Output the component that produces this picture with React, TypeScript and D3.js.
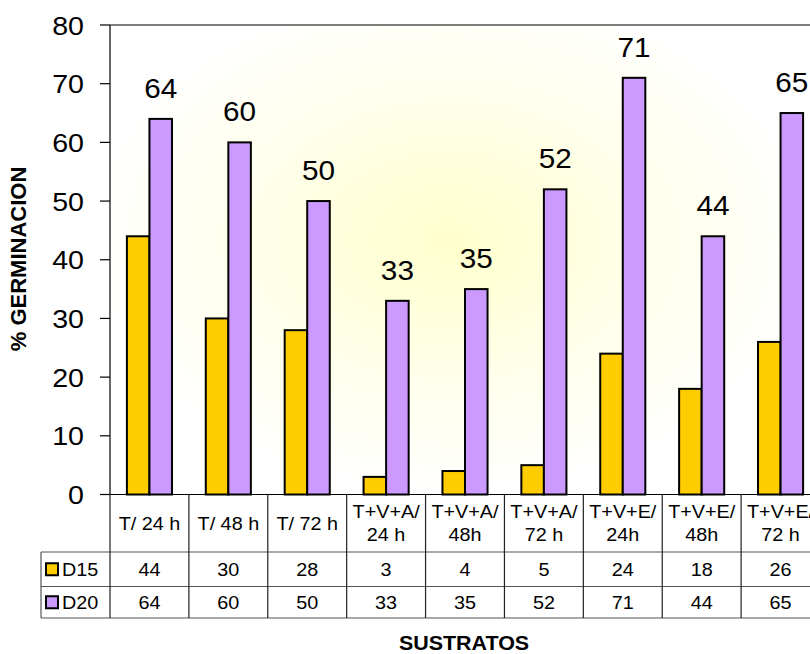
import React from "react";
import * as d3 from "d3";

const categories: string[][] = [
  ["T/ 24 h"],
  ["T/ 48 h"],
  ["T/ 72 h"],
  ["T+V+A/", "24 h"],
  ["T+V+A/", "48h"],
  ["T+V+A/", "72 h"],
  ["T+V+E/", "24h"],
  ["T+V+E/", "48h"],
  ["T+V+E/", "72 h"],
];
const seriesNames = ["D15", "D20"];
const d15 = [44, 30, 28, 3, 4, 5, 24, 18, 26];
const d20 = [64, 60, 50, 33, 35, 52, 71, 44, 65];
const yTicks = [0, 10, 20, 30, 40, 50, 60, 70, 80];
const seriesColors = ["#FFCC00", "#CC99FF"];

const W = 810;
const H = 654;
const FONT = "'Liberation Sans', Arial, sans-serif";
const SX = 1.1; // text is drawn slightly wide

type STProps = {
  x: number;
  y: number;
  size: number;
  anchor?: "start" | "middle" | "end";
  bold?: boolean;
  children: React.ReactNode;
};

function WideText({ x, y, size, anchor = "middle", bold, children }: STProps) {
  return (
    <text
      transform={`translate(${x},${y}) scale(${SX},1)`}
      textAnchor={anchor}
      fontSize={size}
      fontWeight={bold ? "bold" : "normal"}
      fill="#000"
    >
      {children}
    </text>
  );
}

export default function App() {
  const left = 110;
  const right = 820;
  const top = 25;
  const bottom = 494.5;

  const keys = categories.map((_, i) => String(i));
  const x = d3.scaleBand<string>().domain(keys).range([left, right]).padding(0);
  const xs = d3
    .scaleBand<string>()
    .domain(seriesNames)
    .range([0, x.bandwidth()])
    .paddingInner(0)
    .paddingOuter(0.75);
  const y = d3.scaleLinear().domain([0, 80]).range([bottom, top]);

  const values = [d15, d20];

  const rowHeader = [bottom, 552];
  const rowD15 = [552, 586.5];
  const rowD20 = [586.5, 618];
  const legendLeft = 41;

  return (
    <svg
      width={W}
      height={H}
      viewBox={`0 0 ${W} ${H}`}
      style={{ position: "absolute", left: 0, top: 0, background: "#fff" }}
      fontFamily={FONT}
    >
      <defs>
        <radialGradient
          id="plotBg"
          gradientUnits="userSpaceOnUse"
          cx={450}
          cy={240}
          r={360}
          gradientTransform="translate(450 240) scale(1 0.7) translate(-450 -240)"
        >
          <stop offset="0" stopColor="#FFFFCC" />
          <stop offset="0.5" stopColor="#FFFFE8" />
          <stop offset="1" stopColor="#FFFFFF" />
        </radialGradient>
      </defs>

      {/* plot area */}
      <rect x={left} y={top} width={right - left} height={bottom - top} fill="url(#plotBg)" />
      <line x1={left} x2={W} y1={top} y2={top} stroke="#000" strokeWidth={1.2} />

      {/* bars */}
      {values.map((vals, si) =>
        vals.map((v, i) => (
          <rect
            key={`b${si}-${i}`}
            x={(x(keys[i]) ?? 0) + (xs(seriesNames[si]) ?? 0)}
            y={y(v)}
            width={xs.bandwidth()}
            height={bottom - y(v)}
            fill={seriesColors[si]}
            stroke="#000"
            strokeWidth={2}
          />
        ))
      )}

      {/* value labels on D20 */}
      {d20.map((v, i) => (
        <WideText
          key={`vl${i}`}
          x={(x(keys[i]) ?? 0) + (xs("D20") ?? 0) + xs.bandwidth() / 2}
          y={y(v) - 21}
          size={27}
        >
          {v}
        </WideText>
      ))}

      {/* y axis */}
      <line x1={left} x2={left} y1={top} y2={bottom} stroke="#000" strokeWidth={1.2} />
      {yTicks.map((t) => (
        <g key={`yt${t}`}>
          <line x1={left - 10} x2={left} y1={y(t)} y2={y(t)} stroke="#000" strokeWidth={1.2} />
          <WideText x={84} y={y(t) + 9.5} size={26} anchor="end">
            {t}
          </WideText>
        </g>
      ))}

      {/* data table */}
      <g stroke="#555" strokeWidth={1.2}>
        <line x1={left} x2={W} y1={bottom} y2={bottom} stroke="#000" />
        <line x1={legendLeft} x2={W} y1={rowD15[0]} y2={rowD15[0]} />
        <line x1={legendLeft} x2={W} y1={rowD20[0]} y2={rowD20[0]} />
        <line x1={legendLeft} x2={W} y1={rowD20[1]} y2={rowD20[1]} />
        <line x1={legendLeft} x2={legendLeft} y1={rowD15[0]} y2={rowD20[1]} />
        {keys.map((k) => (
          <line
            key={`v${k}`}
            x1={x(k) ?? 0}
            x2={x(k) ?? 0}
            y1={bottom}
            y2={rowD20[1]}
            stroke="#222"
          />
        ))}
      </g>

      {categories.map((lines, i) => {
        const cx = (x(keys[i]) ?? 0) + x.bandwidth() / 2;
        const cy = (rowHeader[0] + rowHeader[1]) / 2;
        const lh = 23;
        return (
          <g key={`c${i}`}>
            {lines.map((ln, j) => (
              <WideText
                key={j}
                x={cx}
                y={cy + (j - (lines.length - 1) / 2) * lh + 6.5}
                size={18}
              >
                {ln}
              </WideText>
            ))}
          </g>
        );
      })}

      {[rowD15, rowD20].map((row, si) => {
        const cy = (row[0] + row[1]) / 2;
        return (
          <g key={`row${si}`}>
            <rect
              x={46}
              y={cy - 6}
              width={12}
              height={12}
              fill={seriesColors[si]}
              stroke="#000"
              strokeWidth={2}
            />
            <WideText x={62} y={cy + 6.5} size={18} anchor="start">
              {seriesNames[si]}
            </WideText>
            {values[si].map((v, i) => (
              <WideText
                key={`tv${si}-${i}`}
                x={(x(keys[i]) ?? 0) + x.bandwidth() / 2}
                y={cy + 6.5}
                size={18}
              >
                {v}
              </WideText>
            ))}
          </g>
        );
      })}

      {/* axis titles */}
      <text
        transform={`translate(26, 259) rotate(-90)`}
        textAnchor="middle"
        fontSize={22}
        fontWeight="bold"
        fill="#000"
      >
        % GERMINACION
      </text>
      <WideText x={464} y={650} size={19.5} bold>
        SUSTRATOS
      </WideText>
    </svg>
  );
}
